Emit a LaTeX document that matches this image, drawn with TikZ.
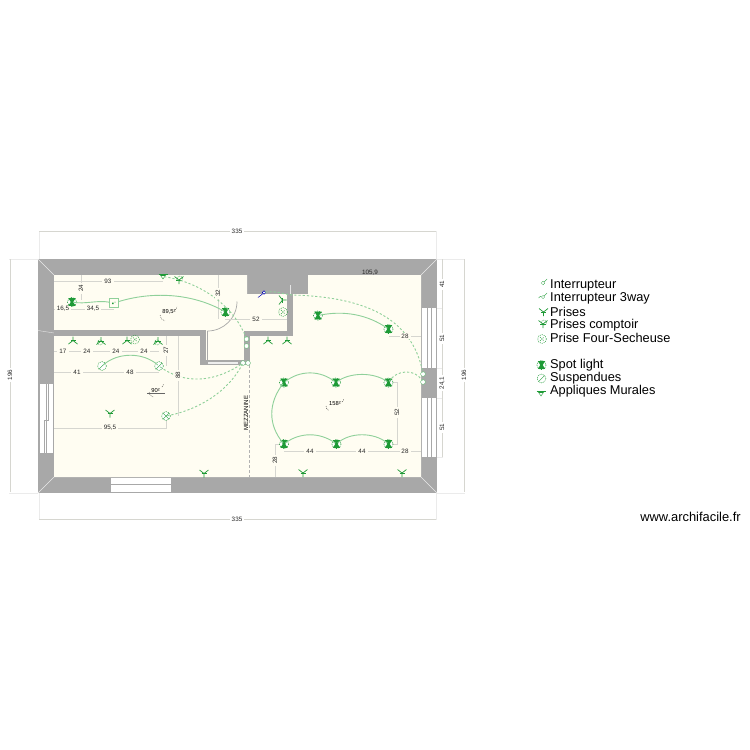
\documentclass[tikz,border=0pt]{standalone}
\usepackage{fontspec}
\setmainfont{Liberation Sans}
\usetikzlibrary{calc}
\definecolor{wallc}{HTML}{A8A8A8}
\definecolor{floorc}{HTML}{FFFDF2}
\definecolor{dimc}{HTML}{D6D6D0}
\definecolor{elec}{HTML}{1E9A36}
\definecolor{wirec}{HTML}{8FD09A}
\tikzset{
  wall/.style={fill=wallc,draw=none},
  win/.style={fill=white,draw=none},
  winline/.style={draw=wallc,line width=.5pt},
  dimline/.style={draw=dimc,line width=.9pt},
  extline/.style={draw=black!8,line width=.5pt},
  dimlabel/.style={font=\fontsize{6.3}{7}\selectfont,text=black!85,fill=floorc,inner xsep=2pt,inner ysep=.6pt},
  plainlabel/.style={font=\fontsize{6.3}{7}\selectfont,text=black!85,inner sep=0pt},
  outlabel/.style={font=\fontsize{6.3}{7}\selectfont,text=black!85,fill=white,inner xsep=2pt,inner ysep=.8pt},
  wire/.style={draw=wirec,line width=.9pt},
  dwire/.style={draw=wirec,line width=.9pt,dash pattern=on 2.2pt off 2pt},
  legend/.style={font=\fontsize{12.8}{14}\selectfont,anchor=west,inner sep=0pt},
  anchorpt/.style={inner sep=0pt,minimum size=2pt},
  elline/.style={draw=elec,line width=.7pt},
  pics/spot/.style={code={
    \draw[draw=elec,line width=.5pt,dash pattern=on 1.2pt off 1pt,fill=white] (0,0) circle (4.6);
    \fill[elec] (-3.6,-3.8) -- (3.6,-3.8) -- (1.2,0) -- (3.6,3.8) -- (-3.6,3.8) -- (-1.2,0) -- cycle;
  }},
  pics/susp/.style={code={
    \draw[draw=elec,line width=.4pt,dash pattern=on 1.2pt off .8pt,fill=white] (0,0) circle (4.4);
    \draw[elec,line width=.35pt] (-3,3) -- (3,-3);
  }},
  pics/suspx/.style={code={
    \draw[draw=elec,line width=.4pt,dash pattern=on 1.2pt off .8pt,fill=white] (0,0) circle (4.4);
    \draw[elec,line width=.35pt] (-3,-3) -- (3,3) (-3,3) -- (3,-3);
  }},
  pics/prise/.style={code={
    \draw[elline] (-4.5,-3) -- (0,.5) -- (4.5,-3) (0,.5) -- (0,4.5);
    \draw[elline,line width=.4pt] (-2.5,.5) -- (2.5,.5);
  }},
  pics/comptoir/.style={code={
    \draw[elline] (-4.5,-3.5) -- (0,0) -- (4.5,-3.5) (0,0) -- (0,4);
    \draw[elline,line width=.4pt] (-3,0) -- (3,0);
    \draw[elline,line width=.35pt,dash pattern=on 1pt off .8pt] (1,-1.5) circle (2.6);
  }},
  pics/four/.style={code={
    \draw[draw=elec,line width=.5pt,dash pattern=on 1pt off 1pt] (0,0) circle (4.4);
    \draw[elec,line width=.4pt,dash pattern=on 1pt off 1pt] (-2,-2) -- (2,2) (-2,2) -- (2,-2);
  }},
  pics/applique/.style={code={
    \draw[elline,line width=.6pt] (-4.5,-2.5) -- (4.5,-2.5);
    \draw[elline,line width=.4pt] (-3.5,-2.5) -- (0,2.5) -- (3.5,-2.5);
    \draw[elline,line width=.3pt] (-2,-1.2) -- (2,-1.2);
  }},
  pics/inter/.style={code={
    \draw[draw=elec!70!white,line width=.4pt,fill=white] (0,0) circle (2.4);
  }},
  pics/tier/.style={code={
    \draw[draw=blue!70!black,line width=.5pt,fill=white] (0,0) circle (1.8);
    \draw[draw=blue!70!black,line width=.5pt] (-1.2,1.2) -- (-6,5);
  }},
  pics/lginter/.style={code={
    \draw[draw=elec,line width=.35pt,dash pattern=on 1pt off .6pt] (0,0) circle (1.8);
    \draw[elec,line width=.35pt] (1.2,-1.2) -- (4,-4);
  }},
  pics/lgtier/.style={code={
    \draw[draw=elec,line width=.35pt,dash pattern=on 1pt off .6pt] (0,0) circle (1.6);
    \draw[elec,line width=.35pt] (1.2,-1.2) -- (4,-4);
    \draw[elec,line width=.35pt] (-4.5,1) arc (180:300:1.8);
  }}
}
\newcommand{\place}[3]{\node[anchorpt] (#1) at (#2) {}; \pic at (#2) {#3};}
\newcommand{\placer}[4]{\node[anchorpt] (#1) at (#2) {}; \pic[rotate=#4] at (#2) {#3};}
\begin{document}
\begin{tikzpicture}[x=1pt,y=-1pt]
\useasboundingbox (0,0) rectangle (750,750);
\fill[white] (0,0) rectangle (750,750);

% outer extension lines
\draw[extline] (39,231) -- (39,259) (436.5,231) -- (436.5,259) (39,493) -- (39,520) (436.5,493) -- (436.5,520);
\draw[extline] (9,259) -- (38,259) (9,493) -- (38,493) (437,259) -- (465,259) (437,493) -- (465,493);
\draw[extline] (437,308) -- (443,308) (437,368) -- (443,368) (437,398) -- (443,398) (437,457) -- (443,457);

% building
\fill[wall] (38,259) rectangle (437,493);
\fill[floorc] (54,275) -- (247,275) -- (247,294) -- (308,294) -- (308,275) -- (421,275) -- (421,477) -- (54,477) -- cycle;
\fill[wall] (287,294) rectangle (293,336);
\fill[wall] (244,331) rectangle (293,336);
\fill[wall] (244,331) rectangle (250,365);
\fill[wall] (54,330) rectangle (206,336);
\fill[wall] (200,330) rectangle (206,365);
\fill[wall] (200,360) rectangle (250,365);
% corner mitres
\draw[draw=white!75!wallc,line width=.4pt] (38,259) -- (54,275) (437,259) -- (421,275) (38,493) -- (54,477) (437,493) -- (421,477);
\draw[draw=white!70!wallc,line width=.4pt] (38,330.5) -- (54,333);
\draw[draw=white!70!wallc,line width=.4pt] (290,285) -- (290,294);

% door
\draw[draw=wallc,line width=.6pt] (207.5,331) -- (207.5,360) -- (237,360);
\draw[draw=wallc,line width=.7pt] (207.5,331) arc (90:0:29.5);
\fill[white!80!wallc] (208,361.5) rectangle (238,363.5);

% windows
\fill[win] (39,383) rectangle (53,453);
\draw[winline] (39,383) rectangle (53,453);
\draw[winline] (46,383) -- (46,453) (48,383) -- (48,420) -- (44,420) -- (44,453);
\fill[win] (111,478) rectangle (171,492);
\draw[winline,line width=.9pt] (111,484.5) -- (171,484.5);
\fill[win] (422,308) rectangle (436,368);
\draw[winline] (427,308) -- (427,368) (431,308) -- (431,368);
\fill[win] (422,398) rectangle (436,457);
\draw[winline] (427,398) -- (427,457) (431,398) -- (431,457);

% mezzanine line
\draw[draw=black!30,line width=.5pt,dash pattern=on 3pt off 2pt] (249,365) -- (249,477);
\node[font=\fontsize{6}{7}\selectfont,rotate=90,inner sep=0pt] (mezz) at (246,413) {MEZZANINE};

% dimension lines
\draw[dimline] (54,281) -- (163,281) (81,275) -- (81,300);
\draw[dimline] (54,309) -- (114,309);
\draw[dimline] (218,275) -- (218,319) (225,319) -- (287,319);
\draw[dimline] (54,351) -- (159,351) (166,336) -- (166,366);
\draw[dimline] (54,372) -- (159,372) (178,336) -- (178,416);
\draw[dimline] (54,428) -- (166,428) -- (166,416);
\draw[dimline] (389,336) -- (421,336);
\draw[dimline] (391,382.5) -- (397,382.5) -- (397,444) -- (391,444);
\draw[dimline] (284,451) -- (421,451);
\draw[dimline] (284,444) -- (275,444) -- (275,477);
\draw[dimline] (39,231.5) -- (436,231.5) (39,519.5) -- (436,519.5);
\draw[dimline] (10,259) -- (10,492) (464,259) -- (464,492) (442,259) -- (442,457);

% devices
\place{sa}{72,302}{spot}
\place{sb}{225.5,312}{spot}
\node[draw=wirec,fill=floorc,line width=.6pt,minimum size=9pt,inner sep=0pt] (box) at (114,303) {};
\fill[elec] (112,302.5) rectangle (113.5,304) (115,302) circle (.5);
\placer{apa}{163,276.5}{applique}{0}
\placer{cpa}{179,280}{comptoir}{0}
\node[anchorpt] (swa) at (246.5,339) {}; \pic at (246.5,339) {inter};
\node[anchorpt] (swb) at (246.5,346) {}; \pic at (246.5,346) {inter};
\node[anchorpt] (swc) at (243,363) {}; \pic at (243,363) {inter};
\node[anchorpt] (swd) at (248,363) {}; \pic at (248,363) {inter};
\placer{pa}{73,341}{prise}{180}
\placer{cpb}{101,341}{comptoir}{180}
\placer{pb}{127,341}{prise}{180}
\place{fa}{135,339.5}{four}
\placer{cpc}{158,341}{comptoir}{180}
\place{ha}{102,366}{susp}
\place{hb}{159,366}{susp}
\place{hc}{166,416}{suspx}
\place{pc}{110,413}{prise}
\place{pd}{204,473}{prise}
\placer{pe}{268,341}{prise}{180}
\placer{pf}{287,341}{prise}{180}
\placer{pg}{282,300}{prise}{90}
\place{fb}{283,312}{four}
\place{tw}{264,292.5}{tier}
\place{sc}{318,315.5}{spot}
\place{sd}{388.5,329}{spot}
\place{se}{284,382.5}{spot}
\place{sf}{336,382.5}{spot}
\place{sg}{388.5,382.5}{spot}
\place{sh}{284,444}{spot}
\place{si}{336.5,444}{spot}
\place{sj}{388.5,444}{spot}
\place{pi}{303,472.5}{prise}
\place{pj}{402,472.5}{prise}
\node[anchorpt] (swe) at (423,374) {}; \pic at (423,374) {inter};
\node[anchorpt] (swf) at (423,382) {}; \pic at (423,382) {inter};

% wires
\draw[wire] (sa) to[out=-10,in=170,looseness=.9] (box);
\draw[wire] (box) .. controls (150,292) and (190,292) .. (sb);
\draw[wire] (ha) .. controls (118,352) and (143,352) .. (hb);
\draw[wire] (sc) .. controls (345,310) and (368,315) .. (sd);
\draw[wire] (se) .. controls (300,370) and (320,370) .. (sf);
\draw[wire] (sf) .. controls (350,372) and (374,372) .. (sg);
\draw[wire] (sh) .. controls (300,432) and (320,432) .. (si);
\draw[wire] (si) .. controls (350,432) and (374,432) .. (sj);
\draw[wire] (se) .. controls (268,403) and (268,425) .. (sh);
\draw[dwire] (apa) .. controls (205,283) and (236,310) .. (swa);
\draw[dwire] (hb) .. controls (185,385) and (215,382) .. (swc);
\draw[dwire] (hc) .. controls (198,410) and (228,392) .. (swc);
\draw[dwire] (tw) .. controls (275,290) and (285,295) .. (293,295) .. controls (360,297) and (412,315) .. (swe);
\draw[dwire] (sg) .. controls (396,370) and (415,368) .. (swf);

% labels
\node[outlabel] (l335a) at (237,231.5) {335};
\node[outlabel] (l335b) at (237,519.5) {335};
\node[outlabel,rotate=90] (l196a) at (10,375) {196};
\node[outlabel,rotate=90] (l196b) at (464,375) {196};
\node[outlabel,rotate=90] (r41) at (442,284) {41};
\node[outlabel,rotate=90] (r51a) at (442,338) {51};
\node[outlabel,rotate=90] (r241) at (442,383) {24,1};
\node[outlabel,rotate=90] (r51b) at (442,427) {51};
\node[dimlabel] (d93) at (108,281) {93};
\node[dimlabel,rotate=90] (d24v) at (81,288) {24};
\node[dimlabel] (d165) at (63,309) {16,5};
\node[dimlabel] (d345) at (93,309) {34,5};
\node[dimlabel,rotate=90] (d32) at (218,293) {32};
\node[dimlabel] (d52h) at (256,319) {52};
\node[dimlabel] (d17) at (63,351) {17};
\node[dimlabel] (d24a) at (87,351) {24};
\node[dimlabel] (d24b) at (116,351) {24};
\node[dimlabel] (d24c) at (144,351) {24};
\node[dimlabel,rotate=90] (d27) at (166,350) {27};
\node[dimlabel] (d41) at (77,372) {41};
\node[dimlabel] (d48) at (130,372) {48};
\node[dimlabel,rotate=90] (d88) at (178,375) {88};
\node[dimlabel] (d955) at (110,428) {95,5};
\node[plainlabel] (d1059) at (370,273) {105,9};
\node[dimlabel] (d28a) at (405,336) {28};
\node[dimlabel,rotate=90] (d52v) at (397,412) {52};
\node[dimlabel] (d44a) at (310,451) {44};
\node[dimlabel] (d44b) at (362,451) {44};
\node[dimlabel] (d28b) at (405,451) {28};
\node[dimlabel,rotate=90] (d28c) at (275,460) {28};
\node[font=\fontsize{5.8}{7}\selectfont,inner sep=0pt] (a1) at (169,312) {89,5²};
\draw[line width=.3pt,dash pattern=on 1pt off 1pt] (160,315) arc (180:100:6) (175,310) arc (60:0:4);
\node[font=\fontsize{5.8}{7}\selectfont,inner sep=0pt] (a2) at (155.5,390) {90²};
\draw[draw=black!60,line width=.3pt] (147,393.5) -- (165,393.5);
\draw[line width=.3pt,dash pattern=on 1pt off 1pt] (149,392) arc (180:100:5) (162,387) arc (60:0:3);
\node[font=\fontsize{5.8}{7}\selectfont,inner sep=0pt] (a3) at (335,403.5) {158²};
\draw[line width=.3pt,dash pattern=on 1pt off 1pt] (326,406) arc (180:120:5) (342,402) arc (60:10:4);

% legend
\pic at (543,283) {lginter};
\pic at (543,297) {lgtier};
\pic at (543.5,311.5) {prise};
\pic at (543,324) {comptoir};
\pic at (542,339) {four};
\pic at (541.5,365) {spot};
\pic at (541.5,378.5) {susp};
\pic at (541,393.5) {applique};
\node[legend] (t1) at (550,285) {Interrupteur};
\node[legend] (t2) at (550,298) {Interrupteur 3way};
\node[legend] (t3) at (550,311.5) {Prises};
\node[legend] (t4) at (550,325) {Prises comptoir};
\node[legend] (t5) at (550,338) {Prise Four-Secheuse};
\node[legend] (t6) at (550,365) {Spot light};
\node[legend] (t7) at (550,378) {Suspendues};
\node[legend] (t8) at (550,391) {Appliques Murales};
\node[font=\fontsize{12.9}{14}\selectfont,inner sep=0pt] (www) at (690.5,517) {www.archifacile.fr};
\end{tikzpicture}
\end{document}
